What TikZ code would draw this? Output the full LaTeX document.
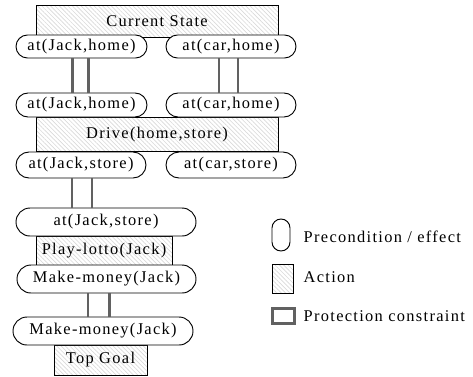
\documentclass[tikz,border=0pt]{standalone}
\usepackage{fontspec}
\setmainfont{Liberation Serif}[LetterSpace=8]
\usetikzlibrary{patterns.meta,shapes.misc}

\tikzset{
  pill/.style={rounded rectangle, draw, line width=0.7pt, fill=white, inner sep=0pt},
  actionbox/.style={draw, line width=0.6pt, pattern={Lines[angle=-45, distance=2.3pt, line width=0.5pt]}, pattern color=black!15, inner sep=0pt},
  protect/.style={line width=2.2pt, draw=black!62},
}

\begin{document}
\begin{tikzpicture}[x=0.75pt, y=-0.75pt, font=\fontsize{12.3}{14}\selectfont]
  \useasboundingbox (0,0) rectangle (473,376);

  % actions
  \node[actionbox, minimum width=181.5pt, minimum height=24pt] (cur) at (157,21) {Current State};
  \node[actionbox, minimum width=181.5pt, minimum height=26pt] (drive) at (157,134.5) {Drive(home,store)};
  \node[actionbox, minimum width=102pt, minimum height=21.75pt] (lotto) at (104,250.5) {Play-lotto(Jack)};
  \node[actionbox, minimum width=69.75pt, minimum height=22.5pt] (goal) at (100.5,360) {Top Goal};

  % preconditions and effects
  \node[pill, minimum width=98.25pt, minimum height=17.25pt] (jh1) at (81.5,46.5) {at(Jack,home)};
  \node[pill, minimum width=97.5pt, minimum height=17.25pt] (ch1) at (231,46.5) {at(car,home)};
  \node[pill, minimum width=98.25pt, minimum height=18pt] (jh2) at (81.5,105) {at(Jack,home)};
  \node[pill, minimum width=97.5pt, minimum height=18pt] (ch2) at (231,105) {at(car,home)};
  \node[pill, minimum width=97.5pt, minimum height=19.5pt] (js1) at (81,165) {at(Jack,store)};
  \node[pill, minimum width=97.5pt, minimum height=19.5pt] (cs1) at (231,165) {at(car,store)};
  \node[pill, minimum width=135pt, minimum height=21pt] (js2) at (106,222) {at(Jack,store)};
  \node[pill, minimum width=134.25pt, minimum height=21pt] (mm1) at (106.5,279) {Make-money(Jack)};
  \node[pill, minimum width=135pt, minimum height=21pt] (mm2) at (103,331) {Make-money(Jack)};

  % protection constraints
  \draw[protect] ([xshift=-7.1pt]jh1.south) -- ([xshift=-7.1pt]jh2.north);
  \draw[protect] ([xshift=4.9pt]jh1.south) -- ([xshift=4.9pt]jh2.north);
  \draw[protect] ([xshift=-9pt]ch1.south) -- ([xshift=-9pt]ch2.north);
  \draw[protect] ([xshift=5.25pt]ch1.south) -- ([xshift=5.25pt]ch2.north);
  \draw[protect] ([xshift=-6.75pt]js1.south) -- ([xshift=-6.75pt]js1.south |- js2.north);
  \draw[protect] ([xshift=8.25pt]js1.south) -- ([xshift=8.25pt]js1.south |- js2.north);
  \draw[protect] ([xshift=-13.9pt]mm1.south) -- ([xshift=-13.9pt]mm1.south |- mm2.north);
  \draw[protect] ([xshift=1.9pt]mm1.south) -- ([xshift=1.9pt]mm1.south |- mm2.north);

  % legend
  \node[draw, line width=0.7pt, rounded corners=6.75pt, minimum width=13.5pt, minimum height=24pt, inner sep=0pt] (keypill) at (281,235) {};
  \node[anchor=west] (keypilltext) at (299,237) {Precondition / effect};
  \node[actionbox, minimum width=15.75pt, minimum height=21.75pt] (keyaction) at (282.5,278.5) {};
  \node[anchor=west] (keyactiontext) at (299,277) {Action};
  \node[draw=black!62, line width=2.2pt, minimum width=16.5pt, minimum height=11.25pt, inner sep=0pt] (keyprotect) at (283.5,316) {};
  \node[anchor=west] (keyprotecttext) at (299,316) {Protection constraint};
\end{tikzpicture}
\end{document}
